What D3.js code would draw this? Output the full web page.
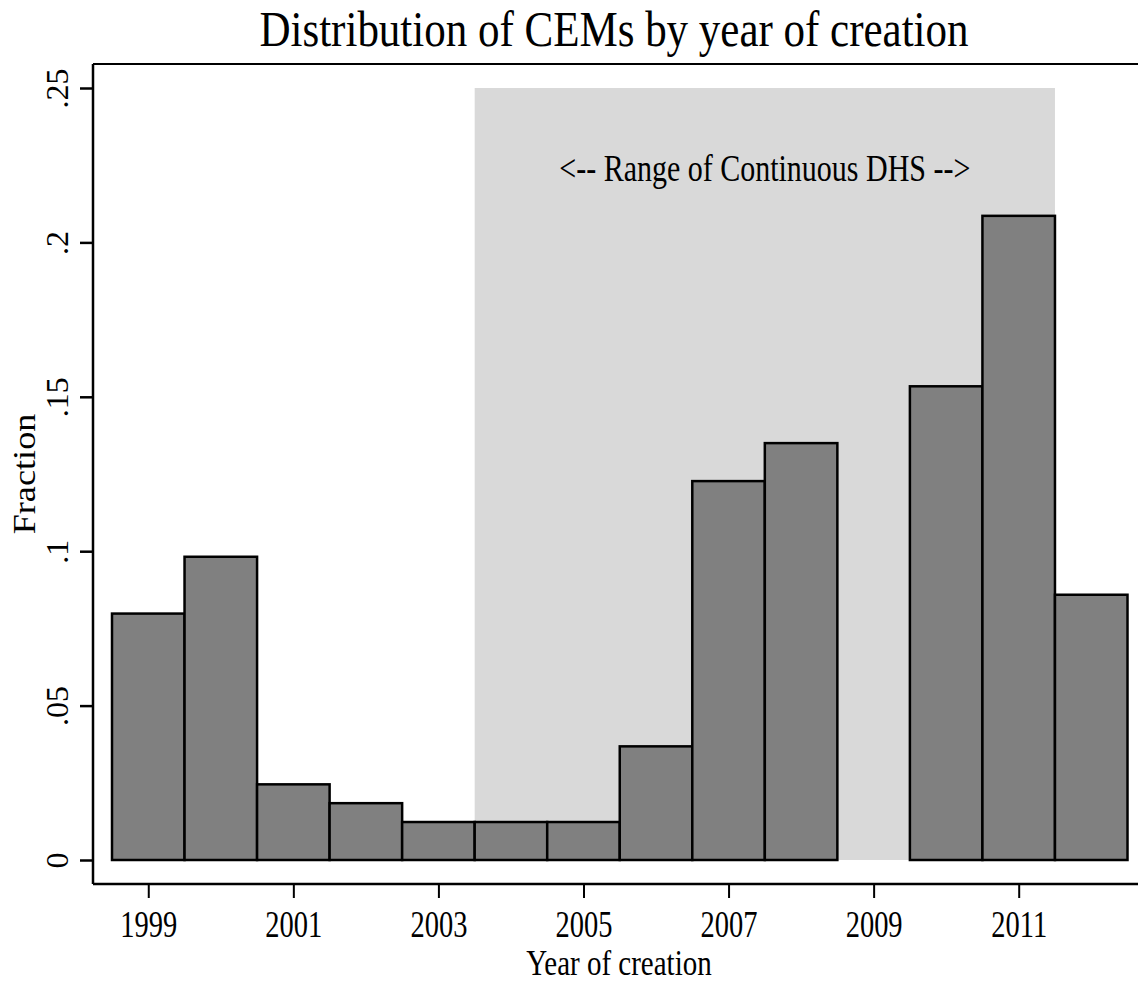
<!DOCTYPE html>
<html>
<head>
<meta charset="utf-8">
<script src="https://cdn.jsdelivr.net/npm/d3@7"></script>
<style>
  html, body { margin: 0; padding: 0; background: #fff; }
  svg { display: block; }
  text { font-family: "Liberation Serif", "Times New Roman", serif; fill: #000; }
</style>
</head>
<body>
<svg id="chart" width="1138" height="984"></svg>
<script>
// ---- Data ----
const years = [1999, 2000, 2001, 2002, 2003, 2004, 2005, 2006, 2007, 2008, 2009, 2010, 2011, 2012];
const fractions = [0.0798, 0.0982, 0.0245, 0.0184, 0.0123, 0.0123, 0.0123, 0.0368, 0.1227, 0.1350, 0, 0.1534, 0.2086, 0.0859];
const xTickValues = [1999, 2001, 2003, 2005, 2007, 2009, 2011];
const yTickValues = [0, 0.05, 0.10, 0.15, 0.20, 0.25];
const yTickLabels = ["0", ".05", ".1", ".15", ".2", ".25"];
const shadeRange = [2003.5, 2011.5];
const titleText = "Distribution of CEMs by year of creation";
const annotationText = "<-- Range of Continuous DHS -->";
const xTitle = "Year of creation";
const yTitle = "Fraction";

// ---- Layout ----
const svg = d3.select("#chart");
const axisX = 93, axisY = 884, frameTop = 64, rightEdge = 1138;

const x = d3.scaleLinear().domain([1998.5, 2012.5]).range([112, 1127.5]);
const y = d3.scaleLinear().domain([0, 0.25]).range([860, 88]);

// Shaded range
svg.append("rect")
  .attr("x", x(shadeRange[0]))
  .attr("y", y(0.25))
  .attr("width", x(shadeRange[1]) - x(shadeRange[0]))
  .attr("height", y(0) - y(0.25))
  .attr("fill", "#d9d9d9");

// Bars
svg.append("g").selectAll("rect")
  .data(years.map((yr, i) => ({ yr, v: fractions[i] })).filter(d => d.v > 0))
  .join("rect")
  .attr("x", d => x(d.yr - 0.5))
  .attr("y", d => y(d.v))
  .attr("width", d => x(d.yr + 0.5) - x(d.yr - 0.5))
  .attr("height", d => y(0) - y(d.v))
  .attr("fill", "#808080")
  .attr("stroke", "#000")
  .attr("stroke-width", 2.5);

// Frame top line
svg.append("line")
  .attr("x1", axisX).attr("x2", rightEdge)
  .attr("y1", frameTop).attr("y2", frameTop)
  .attr("stroke", "#000").attr("stroke-width", 2);

// Y axis
const yAxis = d3.axisLeft(y)
  .tickValues(yTickValues)
  .tickSize(13)
  .tickPadding(0)
  .tickFormat((d, i) => yTickLabels[i]);
const gy = svg.append("g").attr("transform", `translate(${axisX},0)`).call(yAxis);
gy.select(".domain").remove();
gy.selectAll(".tick line").attr("stroke", "#000").attr("stroke-width", 2.5);
gy.selectAll(".tick text").remove();
gy.append("line").attr("x1", 0).attr("x2", 0).attr("y1", frameTop).attr("y2", axisY)
  .attr("stroke", "#000").attr("stroke-width", 2.5);
gy.selectAll(".tick").append("text")
  .attr("transform", "translate(-25,0) rotate(-90)")
  .attr("text-anchor", "middle")
  .attr("font-size", 32)
  .text((d, i) => yTickLabels[i]);

// X axis
const xAxis = d3.axisBottom(x)
  .tickValues(xTickValues)
  .tickSize(14)
  .tickFormat(d3.format("d"));
const gx = svg.append("g").attr("transform", `translate(0,${axisY})`).call(xAxis);
gx.select(".domain").remove();
gx.selectAll(".tick line").attr("stroke", "#000").attr("stroke-width", 2);
gx.selectAll(".tick text").remove();
gx.append("line").attr("x1", axisX).attr("x2", rightEdge).attr("y1", 0).attr("y2", 0)
  .attr("stroke", "#000").attr("stroke-width", 2.5);
gx.selectAll(".tick").append("text")
  .attr("transform", "translate(0,53) scale(1,1.33)")
  .attr("text-anchor", "middle")
  .attr("font-size", 28.5)
  .text(d => d3.format("d")(d));

// Title
svg.append("text")
  .attr("transform", "translate(614,46) scale(1,1.16)")
  .attr("text-anchor", "middle")
  .attr("font-size", 43)
  .text(titleText);

// Annotation
svg.append("text")
  .attr("transform", `translate(${(x(shadeRange[0]) + x(shadeRange[1])) / 2},181) scale(1,1.29)`)
  .attr("text-anchor", "middle")
  .attr("font-size", 30)
  .text(annotationText);

// Axis titles
svg.append("text")
  .attr("transform", "translate(619,975) scale(1,1.2)")
  .attr("text-anchor", "middle")
  .attr("font-size", 29)
  .text(xTitle);

svg.append("text")
  .attr("transform", "translate(35,474) rotate(-90) scale(1.15,1)")
  .attr("text-anchor", "middle")
  .attr("font-size", 31.5)
  .text(yTitle);
</script>
</body>
</html>
